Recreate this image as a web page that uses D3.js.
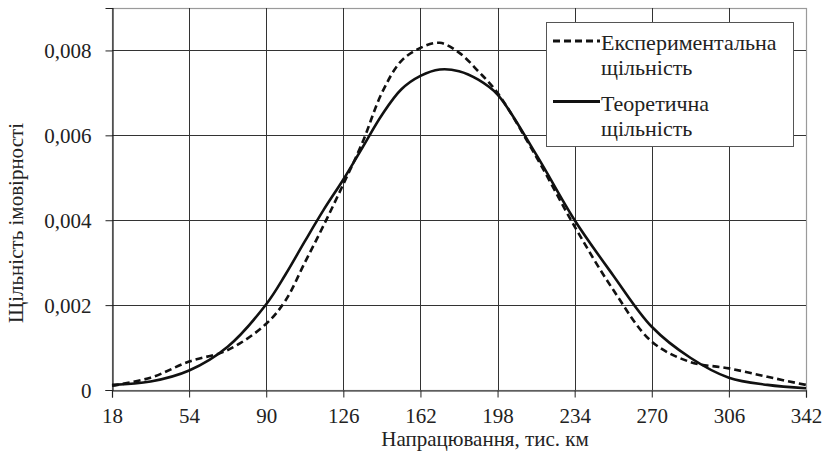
<!DOCTYPE html>
<html>
<head>
<meta charset="utf-8">
<script src="https://cdn.jsdelivr.net/npm/d3@7"></script>
<style>
  html, body { margin: 0; padding: 0; background: #fff; }
  svg { display: block; }
  svg text { font-family: "Liberation Serif", Tinos, "Times New Roman", Times, "DejaVu Serif", serif; fill: #222; }
</style>
</head>
<body>
<svg id="chart" width="825" height="455"></svg>
<script>
// ---- data ----
const mileage = [18, 36, 54, 72, 90, 99, 108, 117, 126, 135, 144, 153, 162, 171, 180, 189, 198, 216, 234, 252, 270, 288, 306, 324, 342];
const experimental = [0.00010, 0.00029, 0.00067, 0.00094, 0.00156, 0.00211, 0.00300, 0.00390, 0.00485, 0.00584, 0.00700, 0.00775, 0.00806, 0.00818, 0.00795, 0.00751, 0.00700, 0.00550, 0.00385, 0.00236, 0.00114, 0.00066, 0.00051, 0.00031, 0.00012];
const theoretical = [0.00012, 0.00020, 0.00046, 0.00102, 0.00202, 0.00272, 0.00350, 0.00426, 0.00496, 0.00572, 0.00648, 0.00708, 0.00740, 0.00755, 0.00751, 0.00731, 0.00696, 0.00555, 0.00400, 0.00270, 0.00149, 0.00076, 0.00029, 0.00012, 0.00004];
const xTicks = [18, 54, 90, 126, 162, 198, 234, 270, 306, 342];
const yTicks = [0, 0.002, 0.004, 0.006, 0.008];
const xTitle = "Напрацювання, тис. км";
const yTitle = "Щільність імовірності";
const legendLabels = [["Експериментальна", "щільність"], ["Теоретична", "щільність"]];

// ---- layout ----
const svg = d3.select("#chart");
const L = 112, R = 806, T = 8, B = 390;
const x = d3.scaleLinear().domain([18, 342]).range([L, R]);
const y = d3.scaleLinear().domain([0, 0.009]).range([B, T]);
const fmt = v => v === 0 ? "0" : d3.format(".3f")(v).replace(".", ",");
const FS = 21;
const FF = '"Liberation Serif", Tinos, "Times New Roman", Times, "DejaVu Serif", serif';

// plot border (gray)
svg.append("rect")
  .attr("x", L + 0.5).attr("y", T + 0.5)
  .attr("width", R - L).attr("height", B - T)
  .attr("fill", "none").attr("stroke", "#9a9a9a").attr("stroke-width", 1.2);

// grid
svg.append("g").selectAll("line").data(xTicks.slice(1, -1)).join("line")
  .attr("x1", d => Math.round(x(d)) + 0.5).attr("x2", d => Math.round(x(d)) + 0.5)
  .attr("y1", T).attr("y2", B)
  .attr("stroke", "#333").attr("stroke-width", 1);
svg.append("g").selectAll("line").data(yTicks.slice(1)).join("line")
  .attr("y1", d => Math.round(y(d)) + 0.5).attr("y2", d => Math.round(y(d)) + 0.5)
  .attr("x1", L).attr("x2", R)
  .attr("stroke", "#333").attr("stroke-width", 1);

// axes
const xAxis = d3.axisBottom(x).tickValues(xTicks).tickSize(7).tickPadding(11).tickFormat(d => d);
const yAxis = d3.axisLeft(y).tickValues(yTicks).tickSize(7).tickPadding(14).tickFormat(fmt);
const gx = svg.append("g").attr("transform", `translate(0,${B + 0.5})`).call(xAxis);
const gy = svg.append("g").attr("transform", `translate(${L + 0.5},0)`).call(yAxis);
[gx, gy].forEach(g => {
  g.attr("font-family", FF).attr("font-size", FS);
  g.select(".domain").attr("stroke", "#222").attr("stroke-width", 1.2);
  g.selectAll(".tick line").attr("stroke", "#222");
  g.selectAll(".tick text").attr("font-size", FS).attr("font-family", FF).attr("fill", "#222");
});
gx.selectAll(".tick text").attr("dy", "0.71em");
gy.selectAll(".tick text").attr("dy", "0.34em");

// titles
svg.append("text").attr("x", 485).attr("y", 446).attr("text-anchor", "middle")
  .attr("font-family", FF).attr("font-size", FS).text(xTitle);
svg.append("text").attr("transform", "translate(23,223) rotate(-90)").attr("text-anchor", "middle")
  .attr("font-family", FF).attr("font-size", FS).text(yTitle);

// curves
const line = d3.line().curve(d3.curveCatmullRom.alpha(0.5));
const ptsE = mileage.map((m, i) => [x(m), y(experimental[i])]);
const ptsT = mileage.map((m, i) => [x(m), y(theoretical[i])]);
svg.append("path").attr("d", line(ptsT)).attr("fill", "none")
  .attr("stroke", "#111").attr("stroke-width", 2.6);
svg.append("path").attr("d", line(ptsE)).attr("fill", "none")
  .attr("stroke", "#111").attr("stroke-width", 2.6).attr("stroke-dasharray", "7,4");

// legend
const lg = svg.append("g");
lg.append("rect").attr("x", 546.5).attr("y", 22.5).attr("width", 247).attr("height", 124)
  .attr("fill", "#fff").attr("stroke", "#555").attr("stroke-width", 1);
lg.append("line").attr("x1", 553).attr("x2", 600).attr("y1", 41).attr("y2", 41)
  .attr("stroke", "#111").attr("stroke-width", 2.8).attr("stroke-dasharray", "7,4");
lg.append("line").attr("x1", 553).attr("x2", 600).attr("y1", 101.5).attr("y2", 101.5)
  .attr("stroke", "#111").attr("stroke-width", 2.8);
const lBase = [[50, 75], [111, 136]];
legendLabels.forEach((lines, i) => {
  lines.forEach((t, j) => {
    lg.append("text").attr("x", 601).attr("y", lBase[i][j])
      .attr("font-family", FF).attr("font-size", 22).text(t);
  });
});
</script>
</body>
</html>
